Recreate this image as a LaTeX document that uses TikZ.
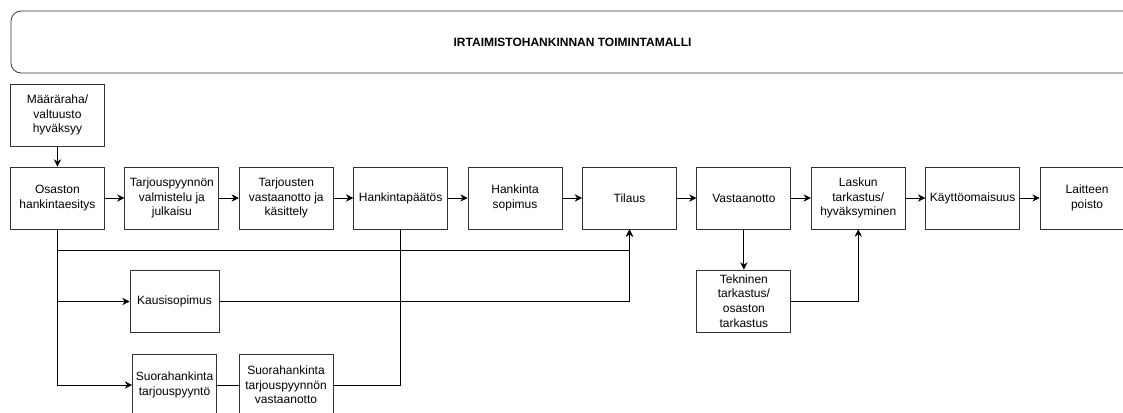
\documentclass[tikz,border=0pt]{standalone}
\usepackage{fontspec}
\setmainfont{Liberation Sans}
\usetikzlibrary{positioning,arrows.meta}
\tikzset{box node/.style={rectangle,draw=black!80,fill=white,minimum width=70.5pt,minimum height=46.5pt,inner sep=1pt,align=center,font=\fontsize{9}{11}\selectfont},
  title node/.style={rectangle,rounded corners=7.5pt,draw=black!80,minimum width=842.25pt,minimum height=46.5pt,font=\fontsize{9}{11}\selectfont\bfseries},
  arrow/.style={-{Stealth[length=5.5pt,width=5.5pt]}}}

\begin{document}
\begin{tikzpicture}[line width=0.6pt]
            \useasboundingbox (0,0) rectangle (842.25pt,-309pt);
            \node[title node] (otsikko) at (429.4pt,-31.5pt) {IRTAIMISTOHANKINNAN TOIMINTAMALLI};

            \node[box node] (osaston) at (43.1pt,-148.5pt) {Osaston\\hankintaesitys};
            \node[box node] (maararaha) [above = 15.15pt of osaston] {Määräraha/\\valtuusto\\hyväksyy};
            \node[box node] (valmistelu) [right = 14.7pt of osaston] {Tarjouspyynnön\\valmistelu ja\\julkaisu};
            \node[box node] (kasittely) [right = 14.7pt of valmistelu] {Tarjousten\\vastaanotto ja\\käsittely};
            \node[box node] (paatos) [right = 14.7pt of kasittely] {Hankintapäätös};
            \node[box node] (sopimus) [right = 14.7pt of paatos] {Hankinta\\sopimus};
            \node[box node] (tilaus) [right = 14.7pt of sopimus] {Tilaus};
            \node[box node] (vastaanotto) [right = 14.7pt of tilaus] {Vastaanotto};
            \node[box node] (laskun) [right = 14.7pt of vastaanotto] {Laskun\\tarkastus/\\hyväksyminen};
            \node[box node] (kaytto) [right = 14.7pt of laskun] {Käyttöomaisuus};
            \node[box node] (poisto) [right = 14.7pt of kaytto] {Laitteen\\poisto};
            \node[box node] (tekninen) [below = 30.15pt of vastaanotto] {Tekninen\\tarkastus/\\osaston\\tarkastus};

            \node[box node, minimum width=66.75pt] (kausi) at (130.9pt,-226.1pt) {Kausisopimus};
            \node[box node, minimum width=63pt] (suoratp) at (130.9pt,-288.75pt) {Suorahankinta\\tarjouspyyntö};
            \node[box node] (suoravo) at (214.5pt,-288.75pt) {Suorahankinta\\tarjouspyynnön\\vastaanotto};
            \coordinate (haara) at ([yshift=-15.75pt]osaston.south);

            \draw[arrow] (maararaha) -- (osaston);
            \draw[arrow] (osaston) -- (valmistelu);
            \draw[arrow] (valmistelu) -- (kasittely);
            \draw[arrow] (kasittely) -- (paatos);
            \draw[arrow] (paatos) -- (sopimus);
            \draw[arrow] (sopimus) -- (tilaus);
            \draw[arrow] (tilaus) -- (vastaanotto);
            \draw[arrow] (vastaanotto) -- (laskun);
            \draw[arrow] (laskun) -- (kaytto);
            \draw[arrow] (kaytto) -- (poisto);

            \draw[arrow] (osaston.south) |- (suoratp.west);
            \draw[arrow] (osaston.south |- kausi.west) -- (kausi.west);
            \draw[arrow] (haara) -| (tilaus.south);
            \draw[arrow] (kausi.east) -| (tilaus.south);
            \draw (suoratp) -- (suoravo);
            \draw (suoravo.east) -| (paatos.south);
            \draw[arrow] (vastaanotto) -- (tekninen);
            \draw[arrow] (tekninen.east) -| (laskun.south);
        \end{tikzpicture}
\end{document}
